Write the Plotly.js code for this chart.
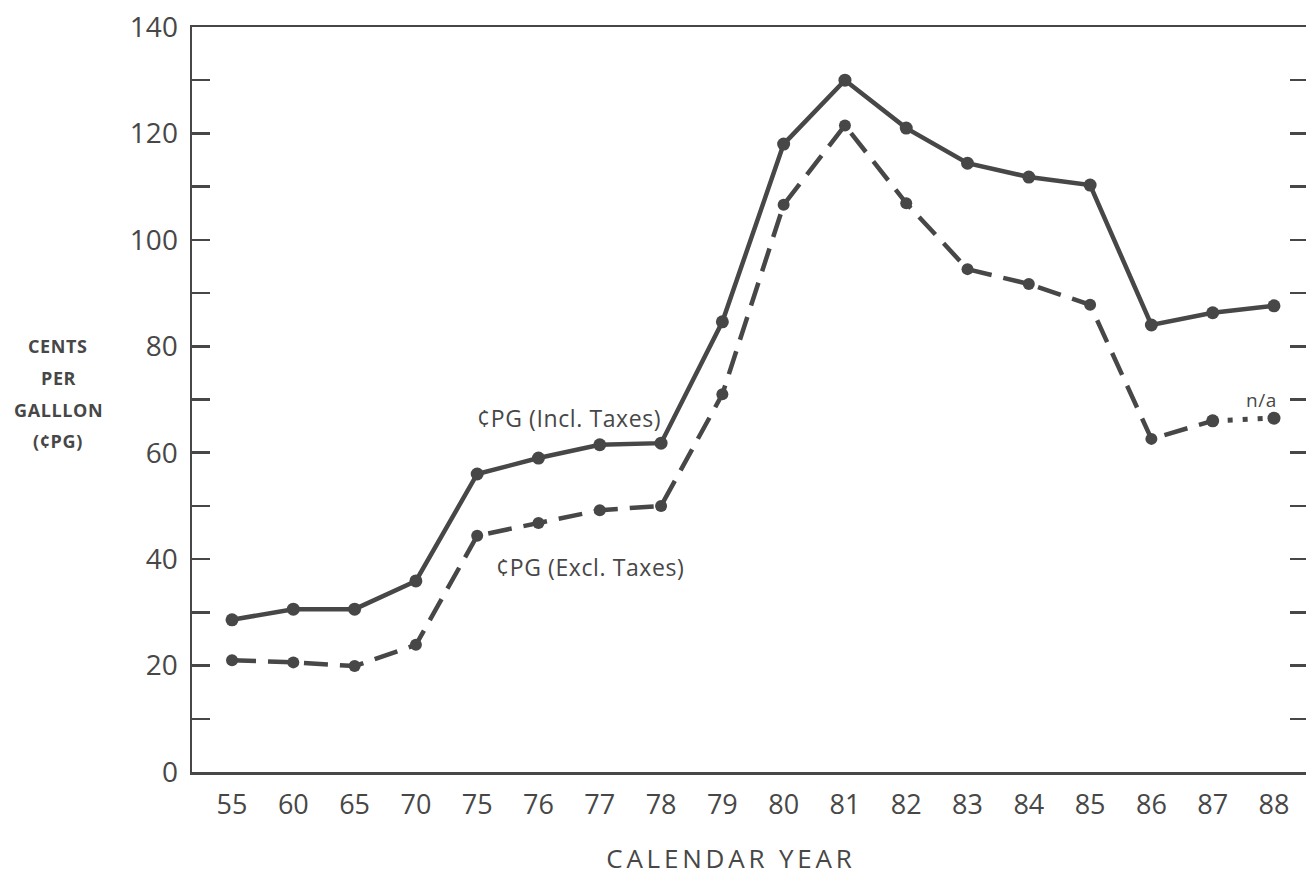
<!DOCTYPE html>
<html>
<head>
<meta charset="utf-8">
<script src="https://cdn.plot.ly/plotly-3.0.1.min.js"></script>
<style>
html, body { margin: 0; padding: 0; background: #fff; overflow: hidden; }
#chart { width: 1310px; height: 876px; }
.annotation-text { letter-spacing: 0.6px; }
.annotation-text.xt { letter-spacing: 3.8px; }
</style>
</head>
<body>
<div id="chart"></div>
<script>
// ---- data ----
var years = ['55','60','65','70','75','76','77','78','79','80','81','82','83','84','85','86','87','88'];
var inclTaxes = [28.6, 30.6, 30.6, 35.9, 56.0, 59.0, 61.5, 61.8, 84.6, 118.0, 130.0, 121.0, 114.4, 111.8, 110.3, 84.0, 86.3, 87.6];
var exclTaxes = [21.0, 20.6, 19.9, 23.9, 44.4, 46.8, 49.2, 50.0, 71.0, 106.6, 121.5, 106.9, 94.5, 91.7, 87.8, 62.6, 66.0];
var exclTaxesNA = [66.0, 66.5];        // 87 -> 88 (n/a, dotted)
var naYears = ['87','88'];
var yTickVals = [0,10,20,30,40,50,60,70,80,90,100,110,120,130,140];
var yTickText = ['0','','20','','40','','60','','80','','100','','120','','140'];
var yTitleLines = ['CENTS','PER','GALLLON','(\u00A2PG)'];
var labelIncl = '\u00A2PG (Incl. Taxes)';
var labelExcl = '\u00A2PG (Excl. Taxes)';
var labelNA = 'n/a';
var xTitle = 'CALENDAR YEAR';

var INK = '#474747';
var FONT = 'Open Sans, Noto Sans, sans-serif';

var traces = [
  { x: years, y: inclTaxes, type: 'scatter', mode: 'lines+markers',
    line: { color: INK, width: 4.5 }, marker: { color: INK, size: 13 }, hoverinfo: 'skip' },
  { x: years.slice(0, exclTaxes.length), y: exclTaxes, type: 'scatter', mode: 'lines+markers',
    line: { color: INK, width: 4.5, dash: '24px,12px' }, marker: { color: INK, size: 12 }, hoverinfo: 'skip' },
  { x: naYears, y: exclTaxesNA, type: 'scatter', mode: 'lines+markers',
    line: { color: INK, width: 5, dash: '5px,10px' }, marker: { color: INK, size: 13 }, hoverinfo: 'skip' }
];

var annotations = [
  { x: 5.5, y: 66.5, xref: 'x', yref: 'y', text: labelIncl, showarrow: false,
    font: { family: FONT, size: 23, color: INK } },
  { x: 5.84, y: 38.5, xref: 'x', yref: 'y', text: labelExcl, showarrow: false,
    font: { family: FONT, size: 23, color: INK } },
  { x: 16.79, y: 69.9, xref: 'x', yref: 'y', text: labelNA, showarrow: false,
    font: { family: FONT, size: 19, color: INK } },
  { x: (731 - 192) / 1116, y: (772 - 858) / 745, xref: 'paper', yref: 'paper', text: xTitle,
    showarrow: false, xanchor: 'center', yanchor: 'middle',
    font: { family: FONT, size: 26, color: INK } }
];
var yLinePix = [346, 378, 410, 441];
yTitleLines.forEach(function (t, i) {
  annotations.push({ x: (58 - 192) / 1116, y: (772 - yLinePix[i]) / 745, xref: 'paper', yref: 'paper',
    text: t, showarrow: false, xanchor: 'center', yanchor: 'middle',
    font: { family: FONT, size: 18, color: INK, weight: 700 } });
});

var layout = {
  width: 1310, height: 876,
  margin: { l: 192, r: 2, t: 27, b: 104 },
  paper_bgcolor: '#fff', plot_bgcolor: '#fff',
  showlegend: false,
  font: { family: FONT, color: INK },
  xaxis: {
    type: 'category', range: [-0.653, 17.555], autorange: false,
    showgrid: false, zeroline: false,
    showline: true, mirror: true, linecolor: INK, linewidth: 2.5,
    ticks: '', tickfont: { family: FONT, size: 27, color: INK },
    ticklabelstandoff: 7,
    automargin: false, fixedrange: true
  },
  yaxis: {
    range: [0, 140], autorange: false,
    tickmode: 'array', tickvals: yTickVals, ticktext: yTickText,
    showgrid: false, zeroline: false,
    showline: true, mirror: 'ticks', linecolor: INK, linewidth: 2.5,
    ticks: 'inside', ticklen: 18, tickwidth: 2.5, tickcolor: INK,
    tickfont: { family: FONT, size: 28, color: INK },
    ticklabelstandoff: 6,
    automargin: false, fixedrange: true
  },
  annotations: annotations
};

Plotly.newPlot('chart', traces, layout, { displayModeBar: false, staticPlot: true }).then(function () {
  // wider tracking for the x-axis title annotation, as in the original print
  var nodes = document.querySelectorAll('.annotation-text');
  nodes.forEach(function (n) { if (n.textContent === xTitle) n.classList.add('xt'); });
});
</script>
</body>
</html>
